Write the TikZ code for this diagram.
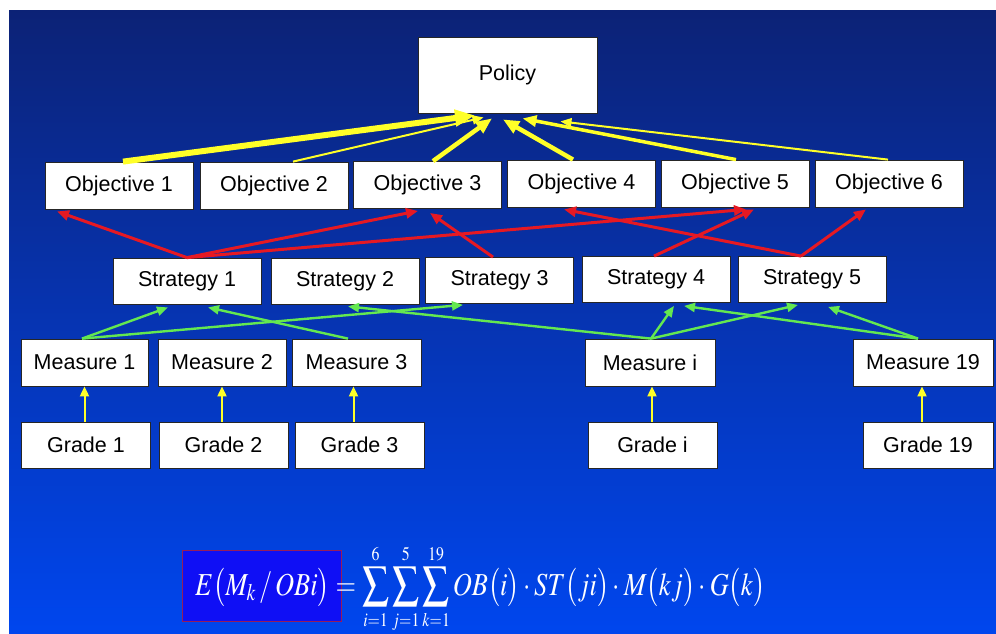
\documentclass[tikz,border=0pt]{standalone}
\usepackage{mathptmx}
\usepackage[no-math]{fontspec}
\setmainfont{Liberation Sans}
\usepackage{graphicx}
\usetikzlibrary{arrows.meta}

\definecolor{bgtop}{RGB}{12,34,118}
\definecolor{bgmid}{RGB}{4,46,182}
\definecolor{bgbot}{RGB}{0,70,238}
\definecolor{arryellow}{RGB}{255,255,40}
\definecolor{arrred}{RGB}{230,25,35}
\definecolor{arrgreen}{RGB}{100,232,80}
\definecolor{formblue}{RGB}{15,15,245}
\definecolor{formedge}{RGB}{150,30,90}

\begin{document}
\begin{tikzpicture}[
    x=1pt, y=-1pt,
    box/.style={rectangle, draw=black!85, fill=white, line width=0.8pt, minimum width=148pt, minimum height=47pt, inner sep=0pt, font=\fontsize{21.5}{24}\selectfont},
    mbox/.style={box, minimum width=129pt},
    parrow/.style n args={3}{draw=arryellow, line width=#1, -{Triangle[length=#2, width=#3]}},
    redarrow/.style={draw=arrred, line width=3pt, -{Triangle[length=12pt, width=10pt]}},
    greenarrow/.style={draw=arrgreen, line width=2.4pt, -{Triangle[length=11pt, width=9pt]}},
    gradearrow/.style={draw=arryellow, line width=2pt, -{Triangle[length=10pt, width=9pt]}},
    formbox/.style={rectangle, draw=formedge, fill=formblue, line width=1pt, minimum width=159pt, minimum height=71pt, inner sep=0pt}
  ]
    % Hintergrund
    \useasboundingbox (0,0) rectangle (996,633);
    \fill[white] (0,0) rectangle (996,633);
    \shade[top color=bgtop, middle color=bgmid, bottom color=bgbot] (9,10) rectangle (996,633);

    % Policy
    \node[box, minimum width=179pt, minimum height=76pt] (policy) at (507.5,75) {Policy};

    % Objectives
    \node[box] (obj1) at (119,185.5) {Objective 1};
    \node[box] (obj2) at (274,185.5) {Objective 2};
    \node[box] (obj3) at (427.5,185) {Objective 3};
    \node[box] (obj4) at (581.5,183.5) {Objective 4};
    \node[box] (obj5) at (735,183.5) {Objective 5};
    \node[box] (obj6) at (889,183.5) {Objective 6};

    % Strategies
    \node[box, minimum height=46pt] (str1) at (187,281) {Strategy 1};
    \node[box, minimum height=46pt] (str2) at (345,281) {Strategy 2};
    \node[box, minimum height=46pt] (str3) at (499.5,280.5) {Strategy 3};
    \node[box, minimum height=46pt] (str4) at (656,279.5) {Strategy 4};
    \node[box, minimum height=46pt] (str5) at (812,279.5) {Strategy 5};

    % Measures
    \node[mbox, minimum width=127pt] (mea1) at (84.5,362.5) {Measure 1};
    \node[mbox, minimum width=128pt] (mea2) at (222,362.5) {Measure 2};
    \node[mbox] (mea3) at (356.5,362.5) {Measure 3};
    \node[mbox, minimum width=130pt] (meai) at (650,362.5) {Measure i};
    \node[mbox, minimum width=140pt] (mea19) at (923,362.5) {Measure 19};

    % Grades
    \node[mbox, minimum height=46pt] (gra1) at (86,445) {Grade 1};
    \node[mbox, minimum height=46pt] (gra2) at (223.5,445) {Grade 2};
    \node[mbox, minimum height=46pt] (gra3) at (359.5,445) {Grade 3};
    \node[mbox, minimum height=46pt] (grai) at (652.5,445) {Grade i};
    \node[mbox, minimum height=46pt, minimum width=130pt] (gra19) at (928,445) {Grade 19};

    % Objectives -> Policy
    \draw[parrow={6pt}{20pt}{16pt}] ([xshift=4pt]obj1.north) -- ([xshift=-32.5pt, yshift=-2pt]policy.south);
    \draw[parrow={2pt}{11pt}{9pt}] ([xshift=19pt]obj2.north) -- ([xshift=-24pt, yshift=-4pt]policy.south);
    \draw[parrow={4.5pt}{16pt}{13pt}] ([xshift=5.5pt]obj3.north) -- ([xshift=-15.5pt, yshift=-5pt]policy.south);
    \draw[parrow={4.5pt}{16pt}{13pt}] ([xshift=-8.5pt]obj4.north) -- ([xshift=-4.5pt, yshift=-6pt]policy.south);
    \draw[parrow={3.5pt}{14pt}{11pt}] ([xshift=1pt]obj5.north) -- ([xshift=15pt, yshift=-5pt]policy.south);
    \draw[parrow={2pt}{11pt}{9pt}] ([xshift=-1pt]obj6.north) -- ([xshift=53pt, yshift=-8pt]policy.south);

    % Strategies -> Objectives
    \draw[redarrow] (str1.north) -- ([xshift=-62pt, yshift=-2pt]obj1.south);
    \draw[redarrow] (str1.north) -- ([xshift=-9.5pt, yshift=-2pt]obj3.south);
    \draw[redarrow] (str1.north) -- ([xshift=11pt, yshift=-2pt]obj5.south);
    \draw[redarrow] ([xshift=-6.5pt]str3.north) -- ([xshift=2.5pt, yshift=-4pt]obj3.south);
    \draw[redarrow] ([xshift=-2pt]str4.north) -- ([xshift=19pt, yshift=-2pt]obj5.south);
    \draw[redarrow] ([xshift=-11pt]str5.north) -- ([xshift=-17.5pt, yshift=-2pt]obj4.south);
    \draw[redarrow] ([xshift=-11pt]str5.north) -- ([xshift=-23pt, yshift=-2pt]obj6.south);

    % Measures -> Strategies
    \draw[greenarrow] ([xshift=-2.5pt]mea1.north) -- ([xshift=-19pt, yshift=-3pt]str1.south);
    \draw[greenarrow] ([xshift=-2.5pt]mea1.north) -- ([xshift=-36.5pt, yshift=-1pt]str3.south);
    \draw[greenarrow] ([xshift=-8.5pt]mea3.north) -- ([xshift=21pt, yshift=-3pt]str1.south);
    \draw[greenarrow] ([xshift=1pt]meai.north) -- ([xshift=3pt, yshift=-2pt]str2.south);
    \draw[greenarrow] ([xshift=1pt]meai.north) -- ([xshift=18pt, yshift=-3pt]str4.south);
    \draw[greenarrow] ([xshift=1pt]meai.north) -- ([xshift=-14pt, yshift=-2pt]str5.south);
    \draw[greenarrow] ([xshift=-5pt]mea19.north) -- ([xshift=28pt, yshift=-3pt]str4.south);
    \draw[greenarrow] ([xshift=-5pt]mea19.north) -- ([xshift=16pt, yshift=-4pt]str5.south);

    % Grades -> Measures
    \draw[gradearrow] (mea1.south |- gra1.north) -- (mea1.south);
    \draw[gradearrow] (mea2.south |- gra2.north) -- (mea2.south);
    \draw[gradearrow] ([xshift=-3pt]mea3.south |- gra3.north) -- ([xshift=-3pt]mea3.south);
    \draw[gradearrow] ([xshift=2pt]meai.south |- grai.north) -- ([xshift=2pt]meai.south);
    \draw[gradearrow] ([xshift=-1pt]mea19.south |- gra19.north) -- ([xshift=-1pt]mea19.south);

    % Formel
    \node[formbox] (lhsbox) at (261.5,585.5) {};
    \node[anchor=base west, inner sep=0pt, text=white, font=\fontsize{32}{38}\selectfont] (formula) at (195,595) {\resizebox{570pt}{\height}{$\displaystyle E\bigl(M_{k}\,/\,OBi\bigr)=\sum_{\scriptscriptstyle i=1}^{\scriptscriptstyle 6}\sum_{\scriptscriptstyle j=1}^{\scriptscriptstyle 5}\sum_{\scriptscriptstyle k=1}^{\scriptscriptstyle 19}OB\bigl(i\bigr)\cdot ST\bigl(ji\bigr)\cdot M\bigl(kj\bigr)\cdot G\bigl(k\bigr)$}};
  \end{tikzpicture}
\end{document}
